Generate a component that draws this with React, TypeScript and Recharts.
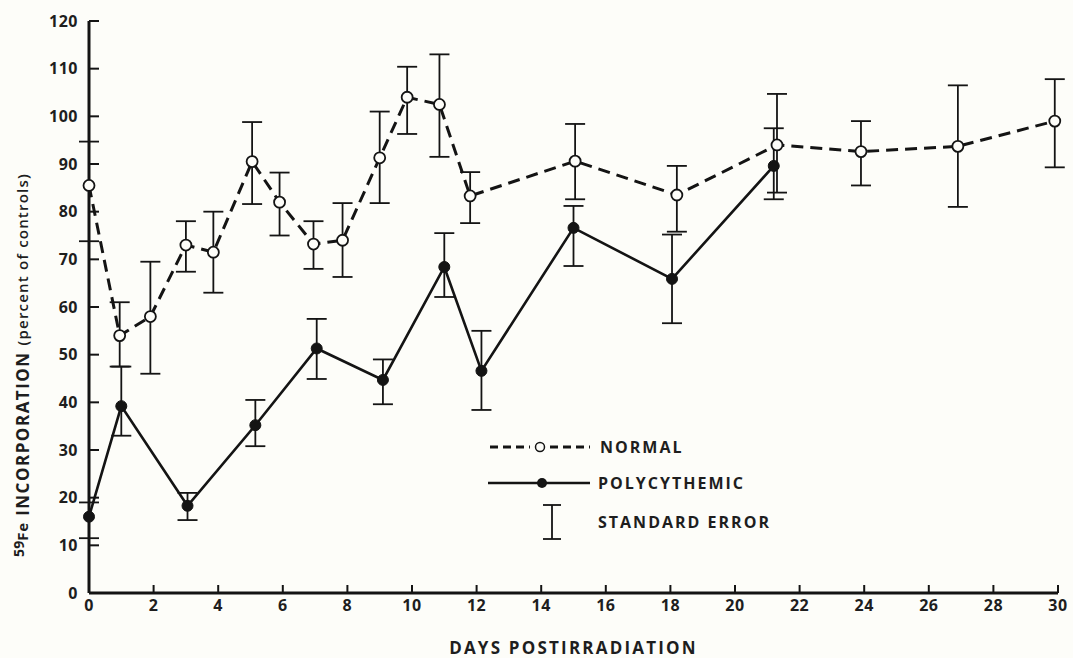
import { ComposedChart, Line, XAxis, YAxis, ErrorBar } from 'recharts'

// normal rats (open circles, dashed)
const normalDays = [0, 0.95, 1.9, 3, 3.85, 5.05, 5.9, 6.95, 7.85, 9, 9.85, 10.85, 11.8, 15.05, 18.2, 21.3, 23.9, 26.9, 29.9]
const normalValues = [85.5, 54, 58, 73, 71.5, 90.5, 82, 73.2, 74, 91.3, 104, 102.5, 83.3, 90.6, 83.5, 94, 92.6, 93.7, 99]
const normalHigh = [94.7, 61, 69.5, 78, 80, 98.8, 88.2, 78, 81.8, 101, 110.4, 113, 88.3, 98.4, 89.6, 104.7, 99, 106.5, 107.8]
const normalLow = [73.8, 47.5, 46, 67.4, 63, 81.6, 75, 68, 66.3, 81.8, 96.3, 91.5, 77.6, 82.6, 75.8, 84, 85.5, 81, 89.3]

// polycythemic rats (filled circles, solid)
const polyDays = [0, 1, 3.05, 5.15, 7.05, 9.1, 11, 12.15, 15, 18.05, 21.2]
const polyValues = [16, 39.2, 18.3, 35.2, 51.3, 44.7, 68.4, 46.6, 76.6, 65.9, 89.6]
const polyHigh = [19, 47.5, 21, 40.5, 57.5, 49, 75.5, 55, 81.2, 75.2, 97.5]
const polyLow = [11.5, 33, 15.3, 30.8, 44.9, 39.6, 62.1, 38.4, 68.6, 56.6, 82.6]

const xTicks = [0, 2, 4, 6, 8, 10, 12, 14, 16, 18, 20, 22, 24, 26, 28, 30]
const yTicks = [0, 10, 20, 30, 40, 50, 60, 70, 80, 90, 100, 110, 120]

const build = (days: number[], vals: number[], lo: number[], hi: number[]) =>
  days.map((d, i) => ({ day: d, v: vals[i], err: [vals[i] - lo[i], hi[i] - vals[i]] }))

const normalData = build(normalDays, normalValues, normalLow, normalHigh)
const polyData = build(polyDays, polyValues, polyLow, polyHigh)

const INK = '#141414'
const FONT = '"Open Sans", sans-serif'
const tickStyle = { fill: '#1e1e1e', fontSize: 16, fontWeight: 700, fontFamily: FONT, letterSpacing: 0.5 }

function OpenDot(props: any) {
  const { cx, cy } = props
  if (cx == null || cy == null) return null
  return <circle cx={cx} cy={cy} r={5.5} fill="#fdfdf9" stroke={INK} strokeWidth={1.8} />
}

function FilledDot(props: any) {
  const { cx, cy } = props
  if (cx == null || cy == null) return null
  return <circle cx={cx} cy={cy} r={5.5} fill={INK} stroke={INK} strokeWidth={1} />
}

function YLabel(props: any) {
  const vb = props.viewBox || {}
  const x = 22
  const y = (vb.y ?? 21) + (vb.height ?? 572) / 2 + 58
  return (
    <text x={x} y={y} transform={`rotate(-90 ${x} ${y})`} textAnchor="middle" dominantBaseline="central"
      fontFamily={FONT} fill="#1e1e1e" fontWeight={700}>
      <tspan fontSize={14} dy={-4}>59</tspan>
      <tspan fontSize={15} dy={4} letterSpacing={1}>Fe</tspan>
      <tspan fontSize={17} letterSpacing={1.5}> INCORPORATION </tspan>
      <tspan fontSize={15} fontWeight={600} letterSpacing={1.2}>(percent of controls)</tspan>
    </text>
  )
}

function LegendBox() {
  const text = { fontFamily: FONT, fontWeight: 700, fontSize: 16, letterSpacing: 2, color: '#1e1e1e' }
  return (
    <div style={{ position: 'absolute', left: 486, top: 430, width: 360 }}>
      <div style={{ display: 'flex', alignItems: 'center', height: 34 }}>
        <svg width={104} height={20}>
          <line x1={4} y1={10} x2={44} y2={10} stroke={INK} strokeWidth={3} strokeDasharray="8 5" />
          <circle cx={54} cy={10} r={4.5} fill="#fdfdf9" stroke={INK} strokeWidth={1.5} />
          <line x1={64} y1={10} x2={104} y2={10} stroke={INK} strokeWidth={3} strokeDasharray="8 5" />
        </svg>
        <span style={{ ...text, marginLeft: 10 }}>NORMAL</span>
      </div>
      <div style={{ display: 'flex', alignItems: 'center', height: 38 }}>
        <svg width={104} height={20}>
          <line x1={2} y1={10} x2={104} y2={10} stroke={INK} strokeWidth={2.6} />
          <circle cx={56} cy={10} r={5} fill={INK} />
        </svg>
        <span style={{ ...text, marginLeft: 8 }}>POLYCYTHEMIC</span>
      </div>
      <div style={{ display: 'flex', alignItems: 'center', height: 40 }}>
        <svg width={104} height={40}>
          <line x1={66} y1={3} x2={66} y2={37} stroke={INK} strokeWidth={1.8} />
          <line x1={57} y1={3} x2={75} y2={3} stroke={INK} strokeWidth={1.8} />
          <line x1={57} y1={37} x2={75} y2={37} stroke={INK} strokeWidth={1.8} />
        </svg>
        <span style={{ ...text, marginLeft: 8 }}>STANDARD ERROR</span>
      </div>
    </div>
  )
}

export default function App() {
  return (
    <div style={{ position: 'absolute', left: 0, top: 0, width: 1073, height: 658, background: '#fdfdf9' }}>
      <ComposedChart width={1073} height={658} margin={{ top: 21, right: 15, left: 0, bottom: 20 }}>
        <XAxis xAxisId="b" dataKey="day" type="number" domain={[0, 30]} ticks={xTicks} height={45}
          axisLine={{ stroke: INK, strokeWidth: 3 }} tickLine={{ stroke: INK, strokeWidth: 2 }}
          tickSize={-8} tickMargin={15} tick={tickStyle}
          label={{ value: 'DAYS POSTIRRADIATION', position: 'insideBottom', offset: -16,
            style: { fill: '#1e1e1e', fontSize: 17, fontWeight: 700, fontFamily: FONT, letterSpacing: 2.2 } }} />
        <XAxis xAxisId="t" orientation="top" dataKey="day" type="number" domain={[0, 30]} ticks={xTicks} height={0}
          axisLine={{ stroke: INK, strokeWidth: 3 }} tickLine={{ stroke: INK, strokeWidth: 2 }}
          tickSize={-8} tickFormatter={() => ''} />
        <YAxis yAxisId="l" type="number" domain={[0, 120]} ticks={yTicks} width={89} interval={0}
          axisLine={{ stroke: INK, strokeWidth: 3 }} tickLine={{ stroke: INK, strokeWidth: 2 }}
          tickSize={-10} tickMargin={21} tick={tickStyle} label={<YLabel />} />
        <YAxis yAxisId="r" orientation="right" type="number" domain={[0, 120]} ticks={yTicks} width={0} interval={0}
          axisLine={{ stroke: INK, strokeWidth: 3 }} tickLine={{ stroke: INK, strokeWidth: 2 }}
          tickSize={-10} tickFormatter={() => ''} />
        <Line xAxisId="b" yAxisId="l" data={normalData} dataKey="v" type="linear" stroke={INK} strokeWidth={3}
          strokeDasharray="12 7" dot={<OpenDot />} activeDot={false} isAnimationActive={false}>
          <ErrorBar dataKey="err" direction="y" width={10} stroke={INK} strokeWidth={1.8} />
        </Line>
        <Line xAxisId="b" yAxisId="l" data={polyData} dataKey="v" type="linear" stroke={INK} strokeWidth={2.6}
          dot={<FilledDot />} activeDot={false} isAnimationActive={false}>
          <ErrorBar dataKey="err" direction="y" width={10} stroke={INK} strokeWidth={1.8} />
        </Line>
      </ComposedChart>
      <LegendBox />
    </div>
  )
}
